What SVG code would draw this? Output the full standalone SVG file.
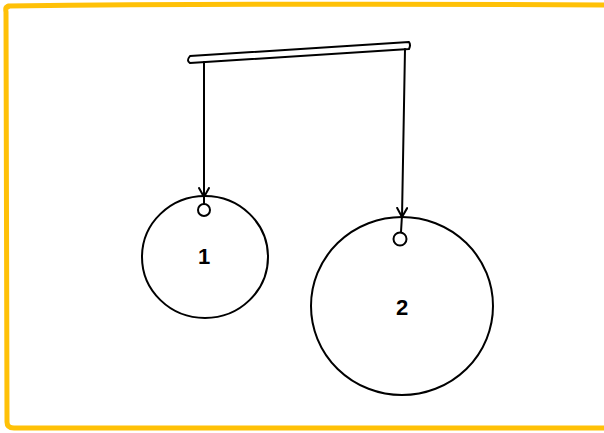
<svg xmlns="http://www.w3.org/2000/svg" width="604" height="433" viewBox="0 0 604 433">
<defs>
<style>
.ink{fill:none;stroke:#000;stroke-width:2;stroke-linecap:round;stroke-linejoin:round}
.lbl{font-family:"Liberation Sans",Arial,sans-serif;font-weight:bold;font-size:22px;fill:#000;text-anchor:middle}
</style>
<marker id="arr" viewBox="0 0 12 12" refX="10" refY="6" markerWidth="12" markerHeight="12" markerUnits="userSpaceOnUse" orient="auto">
<path d="M1,1 L10,6 L1,11" fill="none" stroke="#000" stroke-width="2" stroke-linecap="round"/>
</marker>
</defs>
<rect width="604" height="433" fill="#fff"/>
<path d="M8,7 Q5,6 6,12 L7,422 Q7,428 14,428 Q200,429 620,428 M8,6 Q300,3 620,5" fill="none" stroke="#FFC107" stroke-width="5" stroke-linecap="round"/>
<g id="bar">
<path class="ink" d="M190,56 L409,42 Q411,45 409,49 L190,63 Q186,61 190,56 Z" stroke-width="1.8"/>
</g>
<g id="node1">
<ellipse class="ink" cx="205" cy="257" rx="63" ry="61"/>
<circle class="ink" cx="204" cy="210" r="6"/>
<text class="lbl" x="204" y="264">1</text>
</g>
<g id="node2">
<ellipse class="ink" cx="402" cy="306" rx="91" ry="89"/>
<circle class="ink" cx="400" cy="239" r="6.5"/>
<text class="lbl" x="402" y="315">2</text>
</g>
<g id="connectors">
<path class="ink" d="M204,62 L204,197" marker-end="url(#arr)"/>
<path class="ink" d="M204,196 L204,204"/>
<path class="ink" d="M405,49 L402,217" marker-end="url(#arr)"/>
<path class="ink" d="M402,215 L401,232"/>
</g>
</svg>
